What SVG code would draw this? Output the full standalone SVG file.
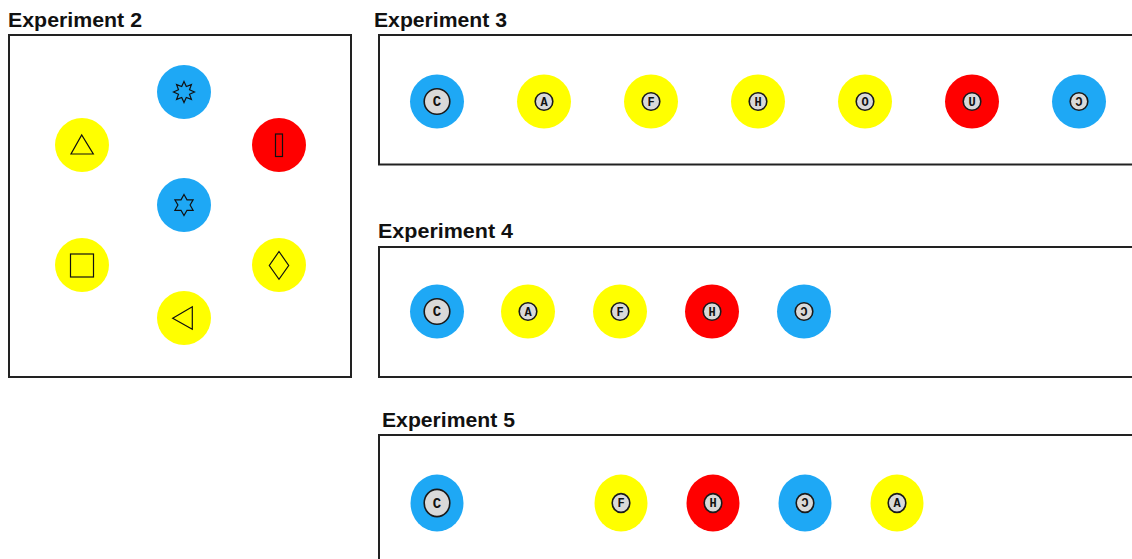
<svg xmlns="http://www.w3.org/2000/svg" width="1132" height="559" viewBox="0 0 1132 559">
<style>
.title{font-family:"Liberation Sans",Arial,sans-serif;font-weight:bold;font-size:20.5px;fill:#111}
.box{fill:#fff;stroke:#222;stroke-width:2}
.blue{fill:#1ea8f5}
.yellow{fill:#ffff00}
.red{fill:#ff0000}
.sym{fill:none;stroke:#111;stroke-width:1.2}
.inner{fill:#d9d9d9;stroke:#1a1a1a;stroke-width:1.6}
.lt{font-family:"Liberation Mono","Courier New",monospace;font-weight:bold;fill:#111;text-anchor:middle}
.big{font-size:14px}
.sm{font-size:12px}
</style>
<rect width="1132" height="559" fill="#fff"/>

<g id="exp2">
<text class="title" x="8" y="27" textLength="134" lengthAdjust="spacingAndGlyphs">Experiment 2</text>
<rect class="box" x="9" y="35" width="342" height="342"/>
<g id="e2-star8"><circle class="blue" cx="184" cy="92" r="27"/>
<polygon class="sym" points="184,81.5 186.3,86.5 191.4,84.6 189.5,89.7 194.5,92 189.5,94.3 191.4,99.4 186.3,97.5 184,102.5 181.7,97.5 176.6,99.4 178.5,94.3 173.5,92 178.5,89.7 176.6,84.6 181.7,86.5"/></g>
<g id="e2-triup"><circle class="yellow" cx="82" cy="145" r="27"/>
<polygon class="sym" points="71,154 93.3,154 81.7,135"/></g>
<g id="e2-rect"><circle class="red" cx="279" cy="145" r="27"/>
<rect class="sym" x="275.5" y="134" width="7" height="22.5"/></g>
<g id="e2-star6"><circle class="blue" cx="184" cy="205" r="27"/>
<polygon class="sym" points="184,194.5 187,199.8 193.1,199.8 190.1,205 193.1,210.3 187,210.3 184,215.5 181,210.3 174.9,210.3 177.9,205 174.9,199.8 181,199.8"/></g>
<g id="e2-square"><circle class="yellow" cx="82" cy="265" r="27"/>
<rect class="sym" x="70.5" y="254" width="23" height="23"/></g>
<g id="e2-diamond"><circle class="yellow" cx="279" cy="265" r="27"/>
<polygon class="sym" points="279,251.5 288.7,265.5 279,279.3 269.3,265.5"/></g>
<g id="e2-trileft"><circle class="yellow" cx="184" cy="318" r="27"/>
<polygon class="sym" points="172.7,318.3 192.3,306.7 192.3,329.3"/></g>
</g>

<g id="exp3">
<text class="title" x="374" y="27" textLength="133" lengthAdjust="spacingAndGlyphs">Experiment 3</text>
<rect class="box" x="379" y="35" width="780" height="129.5"/>
<g id="e3-C"><circle class="blue" cx="437" cy="101.5" r="27"/><circle class="inner" cx="437" cy="101.5" r="12.8"/><text class="lt big" x="437" y="106">C</text></g>
<g id="e3-A"><circle class="yellow" cx="544" cy="101.5" r="27"/><circle class="inner" cx="544" cy="101.5" r="8.8"/><text class="lt sm" x="544" y="105.5">A</text></g>
<g id="e3-F"><circle class="yellow" cx="651" cy="101.5" r="27"/><circle class="inner" cx="651" cy="101.5" r="8.8"/><text class="lt sm" x="651" y="105.5">F</text></g>
<g id="e3-H"><circle class="yellow" cx="758" cy="101.5" r="27"/><circle class="inner" cx="758" cy="101.5" r="8.8"/><text class="lt sm" x="758" y="105.5">H</text></g>
<g id="e3-O"><circle class="yellow" cx="865" cy="101.5" r="27"/><circle class="inner" cx="865" cy="101.5" r="8.8"/><text class="lt sm" x="865" y="105.5">O</text></g>
<g id="e3-U"><circle class="red" cx="972" cy="101.5" r="27"/><circle class="inner" cx="972" cy="101.5" r="8.8"/><text class="lt sm" x="972" y="105.5">U</text></g>
<g id="e3-revC"><circle class="blue" cx="1079" cy="101.5" r="27"/><circle class="inner" cx="1079" cy="101.5" r="8.8"/><text class="lt sm" x="0" y="105.5" transform="translate(1079 0) scale(-1 1)">C</text></g>
</g>

<g id="exp4">
<text class="title" x="378" y="238" textLength="135" lengthAdjust="spacingAndGlyphs">Experiment 4</text>
<rect class="box" x="379" y="247" width="780" height="130"/>
<g id="e4-C"><circle class="blue" cx="437" cy="311.5" r="27"/><circle class="inner" cx="437" cy="311.5" r="12.8"/><text class="lt big" x="437" y="316">C</text></g>
<g id="e4-A"><circle class="yellow" cx="528" cy="311.5" r="27"/><circle class="inner" cx="528" cy="311.5" r="8.8"/><text class="lt sm" x="528" y="315.5">A</text></g>
<g id="e4-F"><circle class="yellow" cx="620" cy="311.5" r="27"/><circle class="inner" cx="620" cy="311.5" r="8.8"/><text class="lt sm" x="620" y="315.5">F</text></g>
<g id="e4-H"><circle class="red" cx="712" cy="311.5" r="27"/><circle class="inner" cx="712" cy="311.5" r="8.8"/><text class="lt sm" x="712" y="315.5">H</text></g>
<g id="e4-revC"><circle class="blue" cx="804" cy="311.5" r="27"/><circle class="inner" cx="804" cy="311.5" r="8.8"/><text class="lt sm" x="0" y="315.5" transform="translate(804 0) scale(-1 1)">C</text></g>
</g>

<g id="exp5">
<text class="title" x="382" y="427" textLength="133" lengthAdjust="spacingAndGlyphs">Experiment 5</text>
<rect class="box" x="379" y="435" width="780" height="160"/>
<g id="e5-C"><ellipse class="blue" cx="437" cy="503" rx="26.5" ry="28.5"/><ellipse class="inner" cx="437" cy="503" rx="12.8" ry="13.6"/><text class="lt big" x="437" y="507.5">C</text></g>
<g id="e5-F"><ellipse class="yellow" cx="621" cy="503" rx="26.5" ry="28.5"/><ellipse class="inner" cx="621" cy="503" rx="8.8" ry="9.4"/><text class="lt sm" x="621" y="507">F</text></g>
<g id="e5-H"><ellipse class="red" cx="713" cy="503" rx="26.5" ry="28.5"/><ellipse class="inner" cx="713" cy="503" rx="8.8" ry="9.4"/><text class="lt sm" x="713" y="507">H</text></g>
<g id="e5-revC"><ellipse class="blue" cx="805" cy="503" rx="26.5" ry="28.5"/><ellipse class="inner" cx="805" cy="503" rx="8.8" ry="9.4"/><text class="lt sm" x="0" y="507" transform="translate(805 0) scale(-1 1)">C</text></g>
<g id="e5-A"><ellipse class="yellow" cx="897" cy="503" rx="26.5" ry="28.5"/><ellipse class="inner" cx="897" cy="503" rx="8.8" ry="9.4"/><text class="lt sm" x="897" y="507">A</text></g>
</g>

<g id="connectors"></g>
</svg>
